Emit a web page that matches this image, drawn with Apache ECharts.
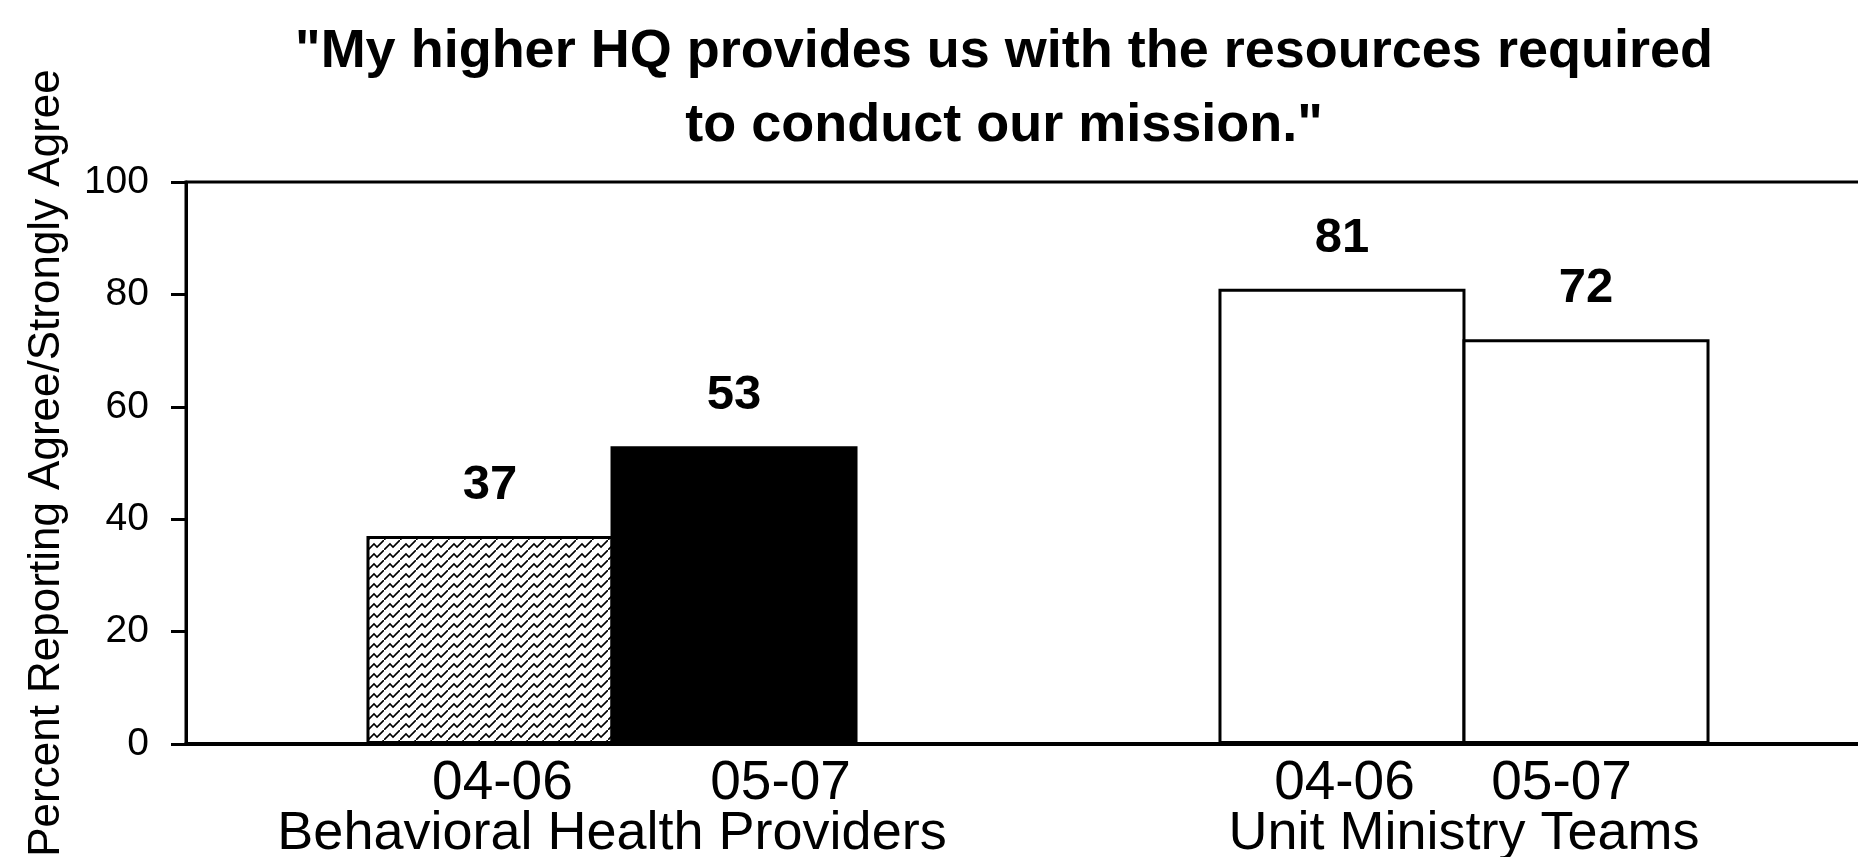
<!DOCTYPE html>
<html>
<head>
<meta charset="utf-8">
<script src="https://cdn.jsdelivr.net/npm/echarts@6/dist/echarts.min.js"></script>
<style>
  html, body { margin: 0; padding: 0; background: #fff; overflow: hidden; width: 1858px; height: 857px; }
  #chart { width: 1920px; height: 857px; }
</style>
</head>
<body>
<div id="chart"></div>
<script>
// data
let groups = ["Behavioral Health Providers", "Unit Ministry Teams"];
let periods = ["04-06", "05-07"];
let first = [37, 81];   // 04-06
let second = [53, 72];  // 05-07
let yTicks = [0, 20, 40, 60, 80, 100];

// woven texture for the first bar
function makePattern(){
    let c = document.createElement("canvas");
    c.width = 16; c.height = 10;
    let g = c.getContext("2d");
    g.fillStyle = "#fff";
    g.fillRect(0, 0, 16, 10);
    g.strokeStyle = "#000";
    g.lineWidth = 1.6;
    g.beginPath();
    g.moveTo(0, 10); g.lineTo(6, 4); g.lineTo(9, 7); g.lineTo(16, 0);
    g.stroke();
    return c;
}

let font = "'Liberation Sans', Arial, sans-serif";
let pattern = { image: makePattern(), repeat: "repeat" };

// per-bar looks: [group 0, group 1]
let looks = [
    [{ color: pattern, borderColor: "#000", borderWidth: 3 },
     { color: "#fff", borderColor: "#000", borderWidth: 3 }],
    [{ color: "#000", borderColor: "#000", borderWidth: 3 },
     { color: "#fff", borderColor: "#000", borderWidth: 3 }]
];

function barData(values, s){
    return values.map((v, i) => ({ value: v, itemStyle: looks[s][i] }));
}

let myChart = echarts.init(document.getElementById("chart"));

let labelStyle = {
    show: true, position: "top", distance: 26,
    fontFamily: font, fontWeight: "bold", fontSize: 49, color: "#000"
};

let option = {
    animation: false,
    backgroundColor: "#fff",
    title: {
        text: '"My higher HQ provides us with the resources required\nto conduct our mission."',
        left: 999,
        top: 10,
        textAlign: "center",
        textStyle: {
            fontFamily: font,
            fontWeight: "bold",
            fontSize: 54,
            lineHeight: 74,
            color: "#000"
        }
    },
    grid: {
        left: 186,
        top: 182,
        width: 1704,
        height: 562,
        outerBoundsMode: "none",
        show: true,
        borderColor: "#000",
        borderWidth: 3,
        backgroundColor: "transparent"
    },
    xAxis: {
        type: "category",
        data: groups,
        axisLine: { lineStyle: { color: "#000", width: 4 } },
        axisTick: { length: 16, lineStyle: { color: "#000", width: 3 } },
        axisLabel: {
            interval: 0,
            margin: 15,
            formatter: function(v, i){
                let gap = i === 0 ? "         " : "     ";
                let tag = i === 0 ? "yrA" : "yrB";
                return "{" + tag + "|" + periods[0] + gap + periods[1] + "}\n{nm|" + v + "}";
            },
            rich: {
                yrA: { fontFamily: font, fontSize: 55, lineHeight: 50, color: "#000", padding: [0, 0, 0, 59] },
                yrB: { fontFamily: font, fontSize: 55, lineHeight: 50, color: "#000", padding: [0, 22, 0, 0] },
                nm: { fontFamily: font, fontSize: 54, lineHeight: 50, color: "#000" }
            }
        }
    },
    yAxis: {
        type: "value",
        min: yTicks[0],
        max: yTicks[yTicks.length - 1],
        interval: 20,
        name: "Percent Reporting Agree/Strongly Agree",
        nameLocation: "middle",
        nameRotate: 90,
        nameGap: 117,
        nameTextStyle: { fontFamily: font, fontSize: 44, color: "#000" },
        axisLine: { show: true, lineStyle: { color: "#000", width: 3 } },
        axisTick: { show: true, length: 15, lineStyle: { color: "#000", width: 3 } },
        axisLabel: { margin: 37, fontFamily: font, fontSize: 39, color: "#000" },
        splitLine: { show: false }
    },
    series: [{
        name: periods[0],
        type: "bar",
        barWidth: 247,
        barGap: "-1.2%",
        data: barData(first, 0),
        label: labelStyle
    }, {
        name: periods[1],
        type: "bar",
        barWidth: 247,
        barGap: "-1.2%",
        data: barData(second, 1),
        label: labelStyle
    }]
};

myChart.setOption(option);
</script>
</body>
</html>
